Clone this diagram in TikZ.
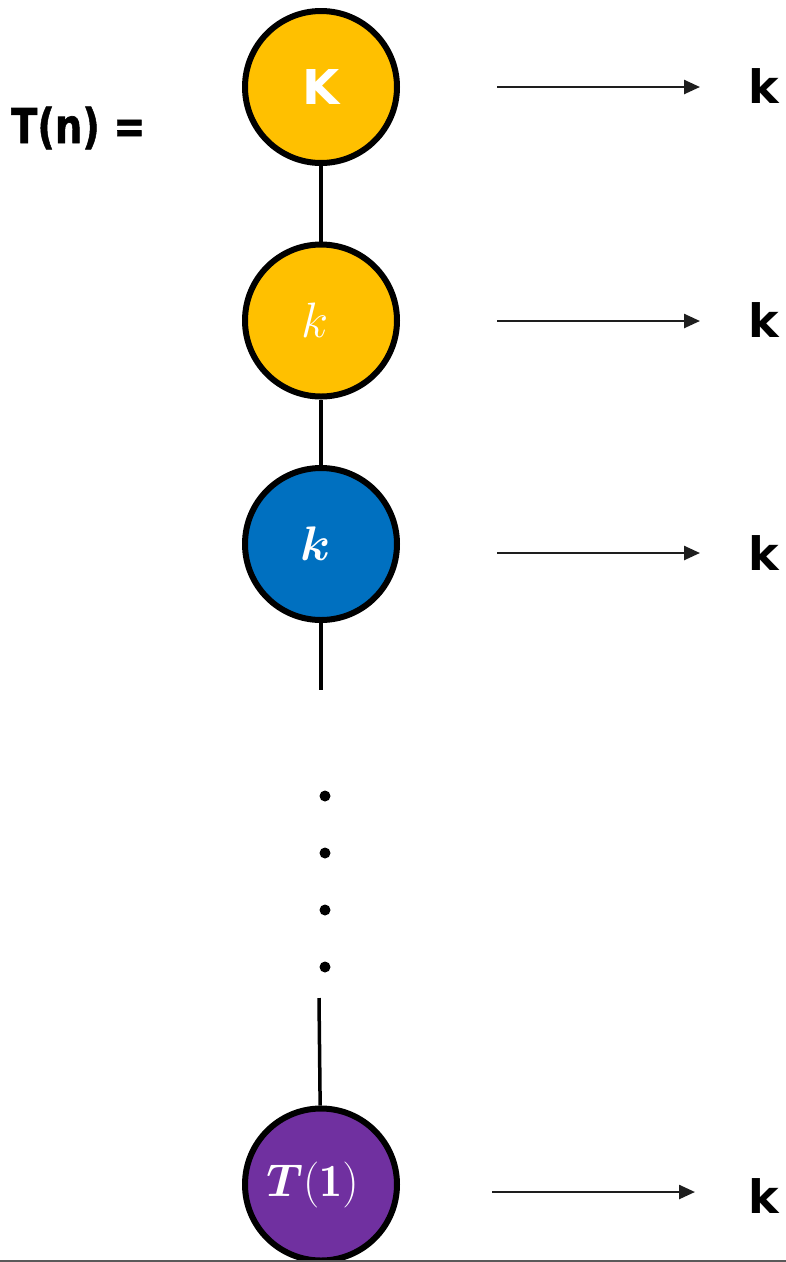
\documentclass[tikz,border=0pt]{standalone}
\usepackage{amsmath}
\usepackage{fontspec}
\newfontfamily\labelsans{DejaVu Sans}
\newfontfamily\heavysans{DejaVu Sans Bold}[FakeBold=1.2]
\usetikzlibrary{arrows.meta}

\definecolor{nodeyellow}{HTML}{FFC000}
\definecolor{nodeblue}{HTML}{0070C0}
\definecolor{nodepurple}{HTML}{7030A0}
\definecolor{arrowink}{HTML}{1E1E1E}
\definecolor{baseline}{HTML}{5A5A5A}

% large math, scaled up from \Huge
\newcommand{\bigmath}[2]{\scalebox{#1}{\Huge$#2$}}
% invisible padding on the right of a node label
\newcommand{\padright}[1]{\rule{#1}{0pt}}

\begin{document}
\begin{tikzpicture}[x=1pt,y=-1pt,
  treenode/.style={circle, draw=black, line width=6pt, minimum size=152pt,
                   inner sep=0pt, text=white},
  link/.style={line width=3.5pt, draw=black},
  dotnode/.style={circle, fill=black, inner sep=0pt, minimum size=11pt},
  costarrow/.style={line width=2.5pt, draw=arrowink,
                    -{Triangle[length=16pt,width=14pt]}},
  cost/.style={font=\labelsans\bfseries\fontsize{46}{46}\selectfont,
               anchor=base west, inner sep=0pt, text=black},
  ]
\useasboundingbox (0,0) rectangle (786,1262);

% left-hand side
\node[font=\heavysans\fontsize{48}{48}\selectfont,
      anchor=base west, inner sep=0pt] (lhs) at (11,143)
      {\scalebox{0.8}[1]{T(n) =}};

% recursion chain
\node[treenode, fill=nodeyellow,
      font=\labelsans\bfseries\fontsize{48}{48}\selectfont] (n1) at (321,87) {K};
\node[treenode, fill=nodeyellow]
      (n2) at (321,320.5) {\bigmath{2.0}{k}\padright{12pt}};
\node[treenode, fill=nodeblue]
      (n3) at (321,544) {\bigmath{1.95}{\boldsymbol{k}}\padright{11pt}};
\node[treenode, fill=nodepurple]
      (n4) at (321,1184.5) {\bigmath{1.85}{\boldsymbol{T}\mathbf{(1)}}\padright{17pt}};

\coordinate (t1) at (321,690);
\coordinate (t2) at (319,998);
\draw[link] (n1) -- (n2);
\draw[link] (n2) -- (n3);
\draw[link] (n3) -- (t1);
\draw[link] (t2) -- (n4);

% ellipsis
\node[dotnode] (d1) at (325,796) {};
\node[dotnode] (d2) at (325,853) {};
\node[dotnode] (d3) at (325,910) {};
\node[dotnode] (d4) at (325,967) {};

% cost per level
\coordinate (a1) at (497,87);   \coordinate (b1) at (700,87);
\coordinate (a2) at (497,321);  \coordinate (b2) at (700,321);
\coordinate (a3) at (497,553);  \coordinate (b3) at (700,553);
\coordinate (a4) at (492,1192); \coordinate (b4) at (695,1192);
\draw[costarrow] (a1) -- (b1);
\draw[costarrow] (a2) -- (b2);
\draw[costarrow] (a3) -- (b3);
\draw[costarrow] (a4) -- (b4);

\node[cost] (k1) at (748,103) {k};
\node[cost] (k2) at (748,337) {k};
\node[cost] (k3) at (748,570) {k};
\node[cost] (k4) at (748,1213) {k};

% bottom rule
\coordinate (r1) at (0,1261);
\coordinate (r2) at (786,1261);
\draw[line width=1.5pt, draw=baseline] (r1) -- (r2);
\end{tikzpicture}
\end{document}
